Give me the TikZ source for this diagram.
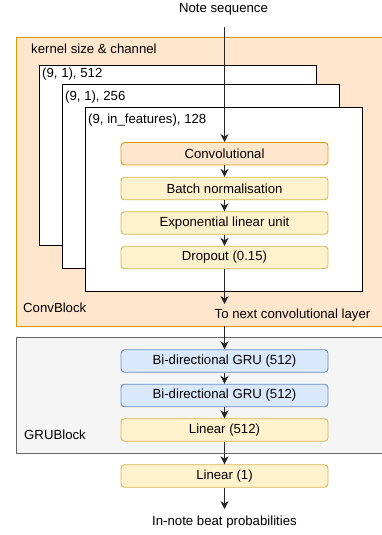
\documentclass[tikz,border=0pt]{standalone}
\usepackage{fontspec}
\setmainfont{Liberation Sans}
\usetikzlibrary{arrows.meta,calc}
\definecolor{orfill}{HTML}{FFE6CC}
\definecolor{ordraw}{HTML}{D79B00}
\definecolor{yefill}{HTML}{FFF2CC}
\definecolor{yedraw}{HTML}{D6B656}
\definecolor{blfill}{HTML}{DAE8FC}
\definecolor{bldraw}{HTML}{6C8EBF}
\definecolor{grfill}{HTML}{F5F5F5}
\definecolor{grdraw}{HTML}{666666}
\tikzset{
  txt/.style={font=\fontsize{13.2}{15}\selectfont, inner sep=0pt},
  layer/.style={txt, draw, rounded corners=3.5pt, line width=0.9pt, minimum width=207pt, minimum height=22.5pt, anchor=north},
  yel/.style={layer, fill=yefill, draw=yedraw},
  org/.style={layer, fill=orfill, draw=ordraw},
  blu/.style={layer, fill=blfill, draw=bldraw},
  sheet/.style={draw=black, fill=white, line width=0.9pt},
  conn/.style={draw=black!85, line width=0.9pt, -{Stealth[length=8pt,width=8pt,inset=2.5pt]}},
}
\begin{document}
\begin{tikzpicture}[x=1pt,y=-1pt]
\useasboundingbox (0,0) rectangle (382,535);
\clip (0,0) rectangle (382,535);
% ConvBlock container
\draw[fill=orfill, draw=ordraw, line width=1pt] (16,38) rectangle (400,326);
\node[txt, anchor=west] (kernel) at (31,49) {kernel size \& channel};
\node[txt, anchor=west] (cb) at (23,308) {ConvBlock};
% stacked sheets
\draw[sheet] (39.5,65) rectangle (316,245);
\node[txt, anchor=west] (s1) at (42,74) {(9, 1), 512};
\draw[sheet] (62.5,84.5) rectangle (339,268);
\node[txt, anchor=west] (s2) at (65,97) {(9, 1), 256};
\draw[sheet] (85.5,107) rectangle (362,291);
\node[txt, anchor=west] (s3) at (88,120) {(9, in\_features), 128};
% GRUBlock container
\draw[fill=grfill, draw=grdraw, line width=1pt] (16,337) rectangle (400,453);
\node[txt, anchor=west] (gb) at (24,435) {GRUBlock};
% coordinates for container edges
\coordinate (cbbot) at (224.5,326);
% layers
\node[org] (conv) at (224.5,142) {Convolutional};
\node[yel] (bn) at (224.5,176.8) {Batch normalisation};
\node[yel] (elu) at (224.5,211.3) {Exponential linear unit};
\node[yel] (drop) at (224.5,245.8) {Dropout (0.15)};
\node[blu] (gru1) at (224.5,349.3) {Bi-directional GRU (512)};
\node[blu] (gru2) at (224.5,383.8) {Bi-directional GRU (512)};
\node[yel] (lin512) at (224.5,418.3) {Linear (512)};
\node[yel] (lin1) at (224.5,464.3) {Linear (1)};
% texts
\node[txt] (ns) at (223.5,9) {Note sequence};
\coordinate (nsout) at (224.5,27);
\node[txt] (next) at (292.5,315) {To next convolutional layer};
\coordinate (nextin) at (224.5,304);
\node[txt] (out) at (224.5,522) {In-note beat probabilities};
\coordinate (outin) at (224.5,509);
% connectors
\draw[conn] (nsout) -- (conv.north);
\draw[conn] (conv) -- (bn);
\draw[conn] (bn) -- (elu);
\draw[conn] (elu) -- (drop);
\draw[conn] (drop.south) -- (nextin);
\draw[conn] (cbbot) -- (gru1.north);
\draw[conn] (gru1) -- (gru2);
\draw[conn] (gru2) -- (lin512);
\draw[conn] (lin512) -- (lin1);
\draw[conn] (lin1.south) -- (outin);
\end{tikzpicture}
\end{document}
